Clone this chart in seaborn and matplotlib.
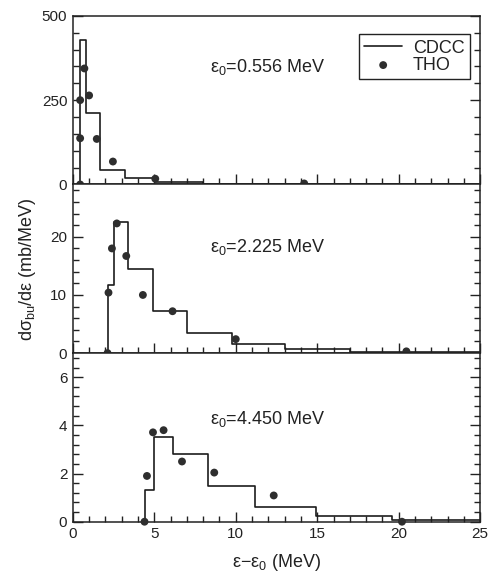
import matplotlib
matplotlib.use("Agg")
import matplotlib.pyplot as plt
import seaborn as sns
from matplotlib.ticker import MultipleLocator

# CDCC histogram bins (edges) and heights, THO points, per panel
top_edges = [0.45, 0.82, 1.68, 3.22, 5.06, 8.0, 25.0]
top_heights = [427, 211, 43, 20, 7, 1]
top_tho_x = [0.45, 0.45, 0.45, 0.71, 1.0, 1.47, 2.46, 5.06, 14.2]
top_tho_y = [0, 137, 250, 344, 264, 135, 68, 17, 3]

mid_edges = [2.13, 2.5, 3.36, 4.92, 7.0, 9.77, 13.05, 17.04, 25.0]
mid_heights = [11.7, 22.6, 14.4, 7.2, 3.4, 1.55, 0.74, 0.15]
mid_tho_x = [2.13, 2.19, 2.4, 2.7, 3.28, 4.3, 6.12, 10.0, 20.47]
mid_tho_y = [0, 10.4, 18.0, 22.3, 16.7, 10.0, 7.2, 2.4, 0.3]

bot_edges = [4.4, 5.0, 6.15, 8.27, 11.16, 14.95, 19.6, 25.0]
bot_heights = [1.31, 3.5, 2.8, 1.5, 0.62, 0.25, 0.07]
bot_tho_x = [4.4, 4.55, 4.92, 5.57, 6.7, 8.68, 12.33, 20.2]
bot_tho_y = [0, 1.9, 3.71, 3.8, 2.5, 2.04, 1.09, 0]

labels = ["ε$_\\mathregular{0}$=0.556 MeV", "ε$_\\mathregular{0}$=2.225 MeV", "ε$_\\mathregular{0}$=4.450 MeV"]
ylims = [500, 29, 7]
ymajor = [250, 10, 2]
yminor = [50, 2, 0.4]

sns.set_style("ticks")
plt.rcParams["font.family"] = ["Liberation Sans", "DejaVu Sans"]
plt.rcParams["mathtext.fontset"] = "custom"
plt.rcParams["mathtext.rm"] = "Liberation Sans"

LINE = "#1c1c1c"
DOT = "#2e2e2e"

fig = plt.figure(figsize=(4.92, 5.72), dpi=100)
left, width, h = 0.148, 0.828, 0.2948
bottoms = [0.0879 + 2 * h, 0.0879 + h, 0.0879]
axes = [fig.add_axes([left, b, width, h]) for b in bottoms]

panels = [
    (top_edges, top_heights, top_tho_x, top_tho_y),
    (mid_edges, mid_heights, mid_tho_x, mid_tho_y),
    (bot_edges, bot_heights, bot_tho_x, bot_tho_y),
]
text_y = [0.666, 0.601, 0.577]

for i, (ax, (edges, heights, tx, ty)) in enumerate(zip(axes, panels)):
    xs = [edges[0]] + list(edges)
    ys = [0] + list(heights) + [heights[-1]]
    sns.lineplot(x=xs, y=ys, drawstyle="steps-post", estimator=None, sort=False,
                 color=LINE, linewidth=1.2, ax=ax, label="CDCC" if i == 0 else None)
    sns.scatterplot(x=tx, y=ty, color=DOT, s=32, edgecolor="none", ax=ax,
                    label="THO" if i == 0 else None, zorder=3, clip_on=False)
    ax.set_xlim(0, 25)
    ax.set_ylim(0, ylims[i])
    ax.xaxis.set_major_locator(MultipleLocator(5))
    ax.xaxis.set_minor_locator(MultipleLocator(1))
    ax.yaxis.set_major_locator(MultipleLocator(ymajor[i]))
    ax.yaxis.set_minor_locator(MultipleLocator(yminor[i]))
    ax.tick_params(which="both", direction="in", right=True, top=False, labelsize=11, pad=4,
                   color="#222222", labelcolor="#222222")
    ax.tick_params(which="major", length=7, width=1)
    ax.tick_params(which="minor", length=4, width=1)
    for sp in ax.spines.values():
        sp.set_linewidth(1.1)
        sp.set_color("#222222")
    ax.text(0.62, text_y[i], labels[i], transform=ax.transAxes, ha="right", va="baseline",
            fontsize=13, color="#222222")
    if i < 2:
        ax.tick_params(labelbottom=False)
    ax.set_xlabel("")
    ax.set_ylabel("")

leg = axes[0].legend(loc="upper right", bbox_to_anchor=(0.975, 0.89), borderaxespad=0,
                     fontsize=13, fancybox=False, framealpha=1, edgecolor="#222222",
                     handlelength=2.1, labelspacing=0.0, borderpad=0.3, handletextpad=0.6)
leg.get_frame().set_linewidth(1.0)
for t in leg.get_texts():
    t.set_color("#222222")

axes[1].set_ylabel("dσ$_\\mathregular{bu}$/dε (mb/MeV)", fontsize=13, color="#222222")
axes[1].yaxis.set_label_coords(-0.085, 0.5)
axes[2].set_xlabel("ε−ε$_\\mathregular{0}$ (MeV)", fontsize=13, color="#222222", labelpad=8)

fig.savefig("out.png", dpi=100)
